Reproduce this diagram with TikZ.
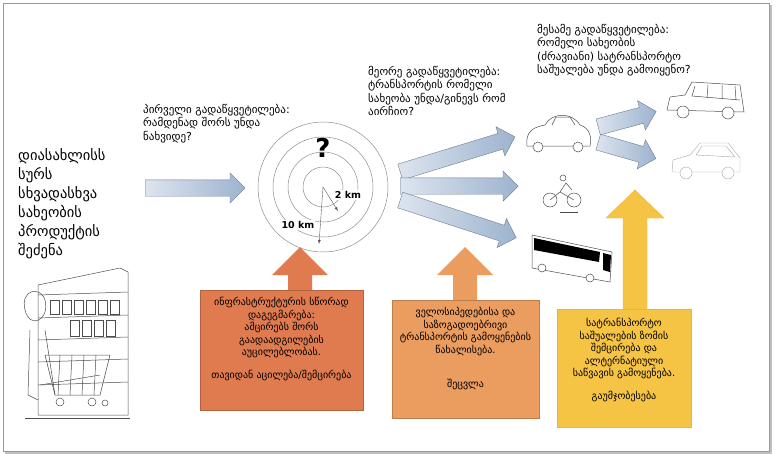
\documentclass[tikz,border=0pt]{standalone}
\usepackage{fontspec}
\setmainfont{DejaVu Sans}
\usetikzlibrary{shapes.arrows}
\definecolor{oA}{HTML}{E07B50}
\definecolor{oB}{HTML}{EB9C5F}
\definecolor{oC}{HTML}{F6C445}
\definecolor{bl}{HTML}{9DB3CF}
\begin{document}
\begin{tikzpicture}[x=1pt,y=-1pt,
  blue/.style={single arrow, draw=bl!70!black, line width=0.4pt, left color=bl!35, right color=bl, minimum height=#1, inner xsep=0pt, inner ysep=8pt, single arrow head extend=7pt, single arrow head indent=0pt, text height=0pt, text depth=0pt, anchor=west},
  q/.style={font=\fontsize{11}{13.5}\selectfont, align=left, anchor=north west, inner sep=0pt},
  bt/.style={font=\fontsize{10}{12.5}\selectfont, align=center, inner sep=0pt, anchor=north},
  sk/.style={draw=black!70, line width=0.5pt},
  ring/.style={draw=black!45, line width=0.5pt}]
\useasboundingbox (0,0) rectangle (776,453);
\draw[black!40, line width=1pt] (3,3) rectangle (769,451);
\draw[black!25, line width=2pt] (771,5) -- (771,453) -- (5,453);

% left text
\node[anchor=north west, inner sep=0pt, align=left, font=\fontsize{14.5}{19}\selectfont] (t0) at (18,148) {დიასახლისს\\სურს\\სხვადასხვა\\სახეობის\\პროდუქტის\\შეძენა};

% shopper sketch
\draw[sk] (38,285) -- (120,268) -- (128,272) -- (128,415) -- (38,415) -- cycle;
\foreach \y in {295,318,340,362,385} \draw[sk] (38,\y) -- (128,\y-3);
\foreach \x in {50,62,74,86,98,110} \draw[sk] (\x,300) rectangle (\x+9,314);
\foreach \x in {70,82,94,106} \draw[sk] (\x,320) rectangle (\x+9,336);
\draw[sk] (25,310) .. controls (20,290) and (40,285) .. (45,300) .. controls (50,320) and (30,330) .. (25,310);
\draw[sk] (30,330) -- (28,395) -- (38,400) (45,330) -- (55,395);
\draw[sk] (45,355) -- (110,355) -- (100,395) -- (55,395) -- cycle;
\foreach \x in {60,72,84,96} \draw[sk] (\x,355) -- (\x-2,395);
\draw[sk] (40,385) -- (100,375);
\draw[sk] (60,402) circle (4) (92,402) circle (4) (105,403) circle (3);
\draw[sk] (25,418) -- (130,418);

% question 1
\node[q] (q1) at (143,104) {პირველი გადაწყვეტილება:\\რამდენად შორს უნდა\\ნახვიდე?};
\node[blue=100pt] (a1) at (145,188) {};

% rings
\coordinate (c) at (323,187);
\foreach \r in {20,35,50,65} \draw[ring] (c) circle (\r);
\node[font=\bfseries\fontsize{26}{26}\selectfont] (qm) at (323,148) {?};
\coordinate (k2) at (338,211);
\coordinate (k10) at (319,244);
\draw[black!65, -latex] (c) -- (k2);
\draw[black!65, -latex] (c) -- (k10);
\node[font=\bfseries\fontsize{9.5}{10}\selectfont, fill=white, inner sep=1pt] (l2) at (348,195) {2 km};
\node[font=\bfseries\fontsize{9.5}{10}\selectfont, fill=white, inner sep=1pt] (l10) at (298,225) {10 km};

% question 2
\node[q] (q2) at (368,66) {მეორე გადაწყვეტილება:\\ტრანსპორტის რომელი\\სახეობა უნდა/გინევს რომ\\აირჩიო?};
\node[blue=120pt, rotate=17] (a2) at (400,172) {};
\node[blue=118pt] (a3) at (400,186) {};
\node[blue=122pt, rotate=-18] (a4) at (400,200) {};

% car (beetle)
\draw[sk, fill=white] (527,146) .. controls (525,130) and (535,127) .. (545,125) .. controls (552,112) and (572,112) .. (580,125) .. controls (590,128) and (592,138) .. (590,146) -- cycle;
\draw[sk] (552,125) -- (556,117) -- (570,117) -- (575,125);
\draw[sk, fill=white] (538,147) circle (5) (578,147) circle (5);
% bicycle
\draw[sk] (550,200) circle (7) (574,200) circle (7);
\draw[sk] (550,200) -- (560,192) -- (574,200) (560,192) -- (566,183) -- (572,190);
\draw[sk] (563,178) circle (3);
\draw[sk] (560,212) -- (578,212);
% bus
\draw[sk, fill=white] (532,235) -- (612,252) -- (610,282) -- (532,268) -- cycle;
\fill[black] (534,238) -- (600,252) -- (599,262) -- (534,250) -- cycle;
\fill[black] (603,253) -- (611,255) -- (610,272) -- (603,270) -- cycle;
\draw[sk, fill=white] (542,268) circle (4) (590,278) circle (4);

% question 3
\node[q] (q3) at (537,24) {მესამე გადაწყვეტილება:\\რომელი სახეობის\\(ძრავიანი) სატრანსპორტო\\საშუალება უნდა გამოიყენო?};
\node[blue=60pt, rotate=15] (a5) at (598,127) {};
\node[blue=60pt, rotate=-16] (a6) at (598,142) {};

% SUV
\draw[sk, fill=white] (667,110) -- (670,97) -- (685,95) -- (692,82) -- (740,85) -- (744,112) -- cycle;
\draw[sk] (695,86) -- (692,96) (708,85) -- (707,98) (722,85) -- (722,99) (735,86) -- (736,100) (692,96) -- (740,100);
\draw[sk, fill=white] (683,112) circle (6) (728,113) circle (6);
% small car
\draw[black!35, fill=white] (672,172) -- (673,160) -- (690,155) -- (700,143) -- (728,143) -- (740,158) -- (740,172) -- cycle;
\draw[black!35] (702,146) -- (696,155) -- (735,157) -- (726,146) -- cycle;
\draw[black!35, fill=white] (686,173) circle (6) (728,173) circle (6);

% orange boxes
\fill[oA] (288,290) -- (288,275) -- (272,275) -- (300,247) -- (328,275) -- (312,275) -- (312,290) -- cycle;
\draw[draw=oA!80!black, fill=oA] (200,290) rectangle (363,410);
\node[bt] (b1) at (281.5,297) {ინფრასტრუქტურის  სწორად\\დაგეგმარება:\\ამცირებს შორს\\გაადაადგილების\\აუცილებლობას.\\[10pt]თავიდან აცილება/შემცირება};
\fill[oB] (453,300) -- (453,275) -- (437,275) -- (465,247) -- (493,275) -- (477,275) -- (477,300) -- cycle;
\draw[draw=oB!80!black, fill=oB] (392,300) rectangle (539,418);
\node[bt] (b2) at (465.5,307) {ველოსიპედებისა და\\საზოგადოებრივი\\ტრანსპორტის გამოყენების\\წახალისება.\\[22pt]შეცვლა};
\fill[oC] (623,309) -- (623,218) -- (606,218) -- (635,190) -- (664,218) -- (647,218) -- (647,309) -- cycle;
\draw[oC!70!orange] (623,309) -- (623,218) -- (606,218) -- (635,190) -- (664,218) -- (647,218) -- (647,309);
\draw[draw=oC!70!orange, fill=oC] (557,309) rectangle (691,427);
\node[bt] (b3) at (624,318) {სატრანსპორტო\\საშუალების ზომის\\შემცირება და\\ალტერნატიული\\საწვავის გამოყენება.\\[10pt]გაუმჯობესება};
\end{tikzpicture}
\end{document}
